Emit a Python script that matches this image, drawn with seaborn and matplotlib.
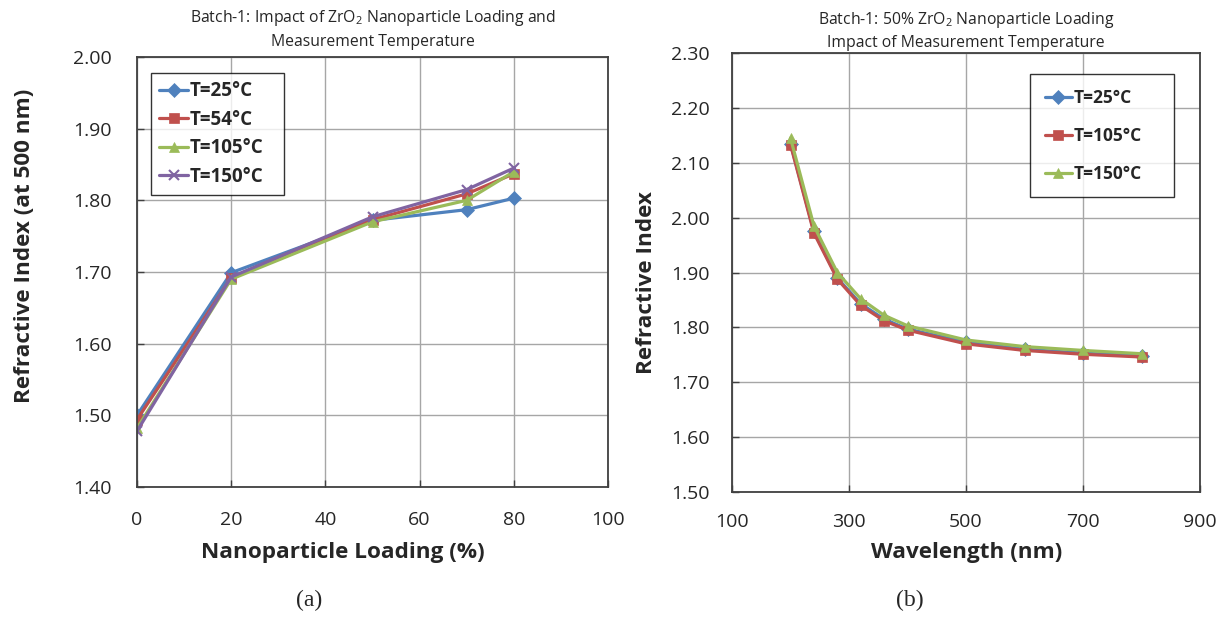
import matplotlib
matplotlib.use('Agg')
import matplotlib.pyplot as plt
import seaborn as sns

# panel (a): index at 500 nm vs nanoparticle loading
loading = [0, 20, 50, 70, 80]
temps_a = ['T=25°C', 'T=54°C', 'T=105°C', 'T=150°C']
ri_25 = [1.500, 1.699, 1.772, 1.787, 1.803]
ri_54 = [1.494, 1.692, 1.773, 1.809, 1.837]
ri_105 = [1.482, 1.690, 1.770, 1.800, 1.840]
ri_150 = [1.478, 1.693, 1.777, 1.815, 1.845]

# panel (b): dispersion for 50% loading
wavelength = [200, 240, 280, 320, 360, 400, 500, 600, 700, 800]
temps_b = ['T=25°C', 'T=105°C', 'T=150°C']
disp_25 = [2.135, 1.975, 1.890, 1.843, 1.815, 1.797, 1.773, 1.760, 1.753, 1.748]
disp_105 = [2.133, 1.972, 1.888, 1.840, 1.812, 1.795, 1.770, 1.758, 1.751, 1.746]
disp_150 = [2.145, 1.985, 1.900, 1.852, 1.822, 1.803, 1.777, 1.765, 1.758, 1.752]

sns.set_style('white')
plt.rcParams['font.family'] = ['Open Sans', 'DejaVu Sans']
plt.rcParams['mathtext.default'] = 'regular'

blue, red, green, purple = '#4F81BD', '#C0504D', '#9BBB59', '#8064A2'
W, H = 1228, 623

fig = plt.figure(figsize=(W / 100, H / 100), dpi=100)
# axes boxes measured in pixels: left, top, right, bottom
ax1 = fig.add_axes([137 / W, 1 - 487 / H, (608 - 137) / W, (487 - 57) / H])
ax2 = fig.add_axes([732 / W, 1 - 492 / H, (1200 - 732) / W, (492 - 53) / H])

series_a = [ri_25, ri_54, ri_105, ri_150]
for name, vals, col, mk in zip(temps_a, series_a, [blue, red, green, purple], ['D', 's', '^', 'x']):
    sns.lineplot(x=loading, y=vals, color=col, marker=mk, lw=2.3, markersize=7,
                 markeredgewidth=1.5 if mk == 'x' else 0.5, markeredgecolor=col,
                 label=name, ax=ax1)

series_b = [disp_25, disp_105, disp_150]
for name, vals, col, mk in zip(temps_b, series_b, [blue, red, green], ['D', 's', '^']):
    sns.lineplot(x=wavelength, y=vals, color=col, marker=mk, lw=2.3, markersize=7,
                 markeredgewidth=0.5, markeredgecolor=col, label=name, ax=ax2)


def style_axes(ax, xpad, ypad):
    ax.grid(True, color='#a6a6a6', lw=1)
    ax.set_axisbelow(True)
    for s in ax.spines.values():
        s.set_color('#404040')
        s.set_linewidth(1.3)
    ax.tick_params(axis='both', direction='in', length=5, width=1,
                   color='#404040', labelsize=14, bottom=True, left=True)
    ax.tick_params(axis='x', pad=xpad)
    ax.tick_params(axis='y', pad=ypad)


ax1.set_xlim(0, 100)
ax1.set_xticks([0, 20, 40, 60, 80, 100])
ax1.set_ylim(1.40, 2.00)
ax1.set_yticks([1.4, 1.5, 1.6, 1.7, 1.8, 1.9, 2.0])
ax1.set_yticklabels([f'{v:.2f}' for v in ax1.get_yticks()])
style_axes(ax1, 17, 18)
ax1.set_xlabel('Nanoparticle Loading (%)', fontsize=16.2, fontweight='bold')
ax1.set_ylabel('Refractive Index (at 500 nm)', fontsize=16.2, fontweight='bold')
ax1.xaxis.set_label_coords(0.438, -0.128)
ax1.yaxis.set_label_coords(-0.2166, 0.56)
ax1.set_title('Batch-1: Impact of ZrO$_2$ Nanoparticle Loading and\nMeasurement Temperature',
              fontsize=11.3, pad=8, linespacing=1.45)

ax2.set_xlim(100, 900)
ax2.set_xticks([100, 300, 500, 700, 900])
ax2.set_ylim(1.50, 2.30)
ax2.set_yticks([1.5, 1.6, 1.7, 1.8, 1.9, 2.0, 2.1, 2.2, 2.3])
ax2.set_yticklabels([f'{v:.2f}' for v in ax2.get_yticks()])
style_axes(ax2, 15, 16)
ax2.set_xlabel('Wavelength (nm)', fontsize=16.2, fontweight='bold')
ax2.set_ylabel('Refractive Index', fontsize=16.2, fontweight='bold')
ax2.xaxis.set_label_coords(0.502, -0.114)
ax2.yaxis.set_label_coords(-0.160, 0.476)
ax2.set_title('Batch-1: 50% ZrO$_2$ Nanoparticle Loading\nImpact of Measurement Temperature',
              fontsize=11.3, pad=4, linespacing=1.45)

# legend boxes stretched to the fixed widths seen in the reference
leg1 = ax1.legend(loc='upper left', bbox_to_anchor=(151 / W, 1 - 183 / H, 133 / W, 110 / H),
                  bbox_transform=fig.transFigure, mode='expand', borderaxespad=0,
                  frameon=True, fancybox=False, prop={'weight': 'bold', 'size': 13.5},
                  handlelength=1.5, handletextpad=0.1, labelspacing=0.45,
                  borderpad=0.45)
leg1.get_frame().set_edgecolor('#000000')
leg1.get_frame().set_linewidth(1)

leg2 = ax2.legend(loc='upper left', bbox_to_anchor=(1030 / W, 1 - 194 / H, 144 / W, 120 / H),
                  bbox_transform=fig.transFigure, mode='expand', borderaxespad=0,
                  frameon=True, fancybox=False, prop={'weight': 'bold', 'size': 12.5},
                  handlelength=1.55, handletextpad=0.1, labelspacing=1.15,
                  borderpad=0.85)
leg2.get_frame().set_edgecolor('#000000')
leg2.get_frame().set_linewidth(1)

fig.text(309 / W, 1 - 600 / H, '(a)', ha='center', va='center',
         fontsize=17, family=['Liberation Serif', 'DejaVu Serif'])
fig.text(910 / W, 1 - 600 / H, '(b)', ha='center', va='center',
         fontsize=17, family=['Liberation Serif', 'DejaVu Serif'])

fig.savefig('out.png', dpi=100)
